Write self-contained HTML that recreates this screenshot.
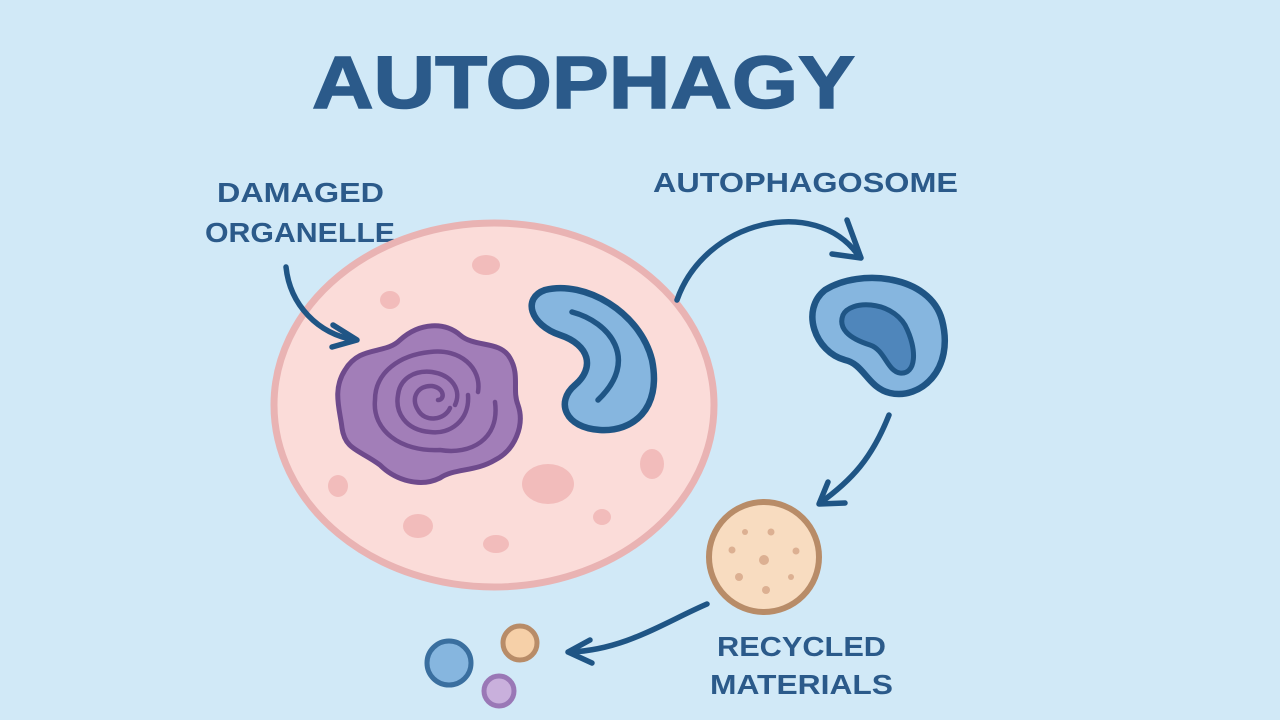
<!DOCTYPE html>
<html><head><meta charset="utf-8"><style>
html,body{margin:0;padding:0;width:1280px;height:720px;overflow:hidden;background:#d1e9f7}
svg{display:block}
text{font-family:"Liberation Sans",sans-serif;font-weight:bold;fill:#2b5a8a}
</style></head><body>
<svg width="1280" height="720" viewBox="0 0 1280 720" xmlns="http://www.w3.org/2000/svg">
<rect width="1280" height="720" fill="#d1e9f7"/>
<text x="312" y="108" font-size="74" textLength="543" lengthAdjust="spacingAndGlyphs" stroke="#2b5a8a" stroke-width="1.5">AUTOPHAGY</text>
<text x="217" y="202" font-size="28" textLength="167" lengthAdjust="spacingAndGlyphs">DAMAGED</text>
<text x="205" y="242" font-size="28" textLength="190" lengthAdjust="spacingAndGlyphs">ORGANELLE</text>
<text x="653" y="192" font-size="28" textLength="305" lengthAdjust="spacingAndGlyphs">AUTOPHAGOSOME</text>
<text x="717" y="656" font-size="28" textLength="169" lengthAdjust="spacingAndGlyphs">RECYCLED</text>
<text x="710" y="694" font-size="28" textLength="183" lengthAdjust="spacingAndGlyphs">MATERIALS</text>

<ellipse cx="494" cy="405" rx="220" ry="182" fill="#fbdcd9" stroke="#e9b3b3" stroke-width="7"/>
<g fill="#f2bcbb">
<ellipse cx="486" cy="265" rx="14" ry="10"/>
<ellipse cx="390" cy="300" rx="10" ry="9"/>
<ellipse cx="338" cy="486" rx="10" ry="11"/>
<ellipse cx="548" cy="484" rx="26" ry="20"/>
<ellipse cx="652" cy="464" rx="12" ry="15"/>
<ellipse cx="418" cy="526" rx="15" ry="12"/>
<ellipse cx="496" cy="544" rx="13" ry="9"/>
<ellipse cx="602" cy="517" rx="9" ry="8"/>
</g>
<path d="M345,370 C360,345 385,355 400,340 C420,322 445,322 460,335 C475,348 500,340 510,358 C520,375 512,390 518,405 C525,425 515,450 495,460 C475,472 455,468 440,478 C420,488 395,480 380,465 C360,450 345,450 342,428 C340,410 332,390 345,370 Z" fill="#a27eb8" stroke="#6e4a8c" stroke-width="5"/>
<g fill="none" stroke="#6e4a8c" stroke-width="4.5" stroke-linecap="round">
<path d="M495,402 C500,440 470,455 440,450 C400,452 372,430 375,400 C375,372 400,355 430,352 C460,348 482,368 478,392"/>
<path d="M468,395 C470,420 450,435 430,432 C405,430 395,412 398,395 C400,378 415,370 432,372 C452,375 462,390 455,405"/>
<path d="M450,408 C445,420 425,423 418,410 C410,398 418,385 432,386 C445,388 445,400 438,400"/>
</g>
<path d="M545,290 C585,280 640,312 652,360 C662,410 632,432 600,430 C565,428 555,402 575,385 C595,368 590,345 560,335 C530,325 522,298 545,290 Z" fill="#86b6df" stroke="#1f5585" stroke-width="6.5"/>
<path d="M572,312 C610,322 640,360 598,400" fill="none" stroke="#1f5585" stroke-width="5.5" stroke-linecap="round"/>

<path d="M825,290 C860,268 930,275 942,320 C955,370 920,400 890,393 C868,388 864,364 845,360 C815,352 800,310 825,290 Z" fill="#86b6df" stroke="#1f5585" stroke-width="6.5"/>
<path d="M843,315 C850,300 890,300 905,325 C918,350 916,375 900,373 C887,371 885,350 870,345 C848,338 838,328 843,315 Z" fill="#4f86bb" stroke="#1f5585" stroke-width="5"/>

<circle cx="764" cy="557" r="55" fill="#f8dcc0" stroke="#b88c68" stroke-width="6"/>
<g fill="#dcb092">
<circle cx="745" cy="532" r="3"/><circle cx="771" cy="532" r="3.5"/>
<circle cx="732" cy="550" r="3.5"/><circle cx="796" cy="551" r="3.5"/>
<circle cx="764" cy="560" r="5"/><circle cx="739" cy="577" r="4"/>
<circle cx="791" cy="577" r="3"/><circle cx="766" cy="590" r="4"/>
</g>
<circle cx="449" cy="663" r="22" fill="#86b6df" stroke="#3a6f9f" stroke-width="5"/>
<circle cx="520" cy="643" r="17" fill="#f6d0a8" stroke="#b88c68" stroke-width="5"/>
<circle cx="499" cy="691" r="15" fill="#c9b0dc" stroke="#9a78b6" stroke-width="5"/>

<g fill="none" stroke="#1f5585" stroke-width="5.5" stroke-linecap="round" stroke-linejoin="round">
<path d="M286,267 C290,305 318,334 355,340"/>
<path d="M333,325 L357,340 L332,347"/>
<path d="M677,300 C705,220 815,195 858,255"/>
<path d="M847,220 L861,258 L832,254"/>
<path d="M889,415 C872,458 852,480 820,503"/>
<path d="M828,482 L819,504 L845,503"/>
<path d="M707,604 C665,622 625,650 570,652"/>
<path d="M590,640 L568,652 L592,663"/>
</g>
</svg>
</body></html>
